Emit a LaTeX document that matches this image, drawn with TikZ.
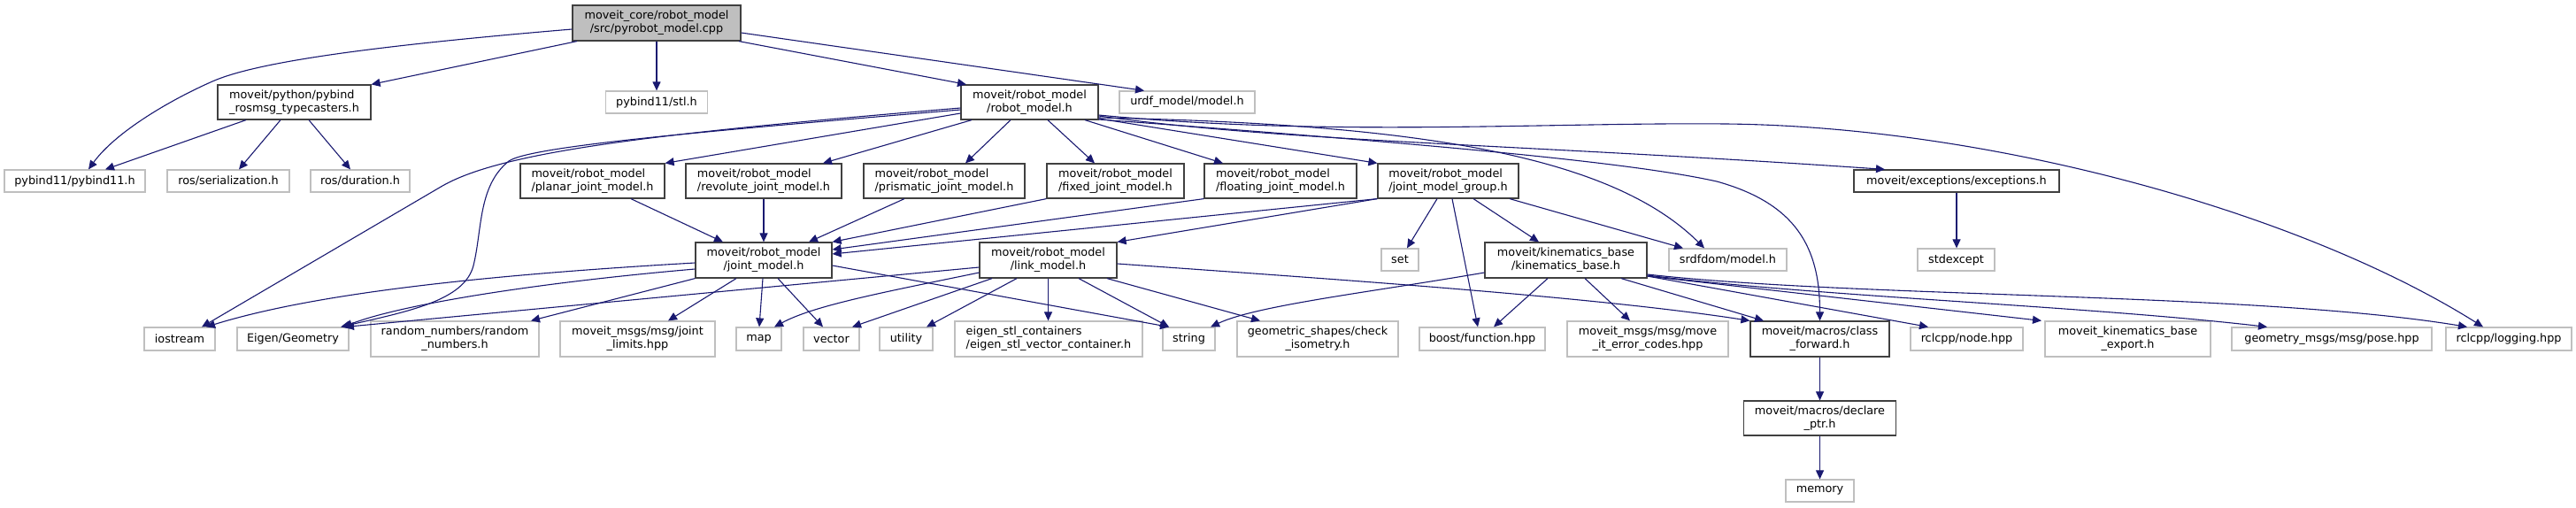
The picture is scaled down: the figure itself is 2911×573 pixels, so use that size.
\documentclass[tikz,border=0pt]{standalone}
\usepackage{fontspec}
\setmainfont{DejaVu Sans}
\usetikzlibrary{arrows.meta,calc}
\definecolor{edgeblue}{HTML}{191970}
\definecolor{intgray}{HTML}{404040}
\definecolor{extgray}{HTML}{BFBFBF}
\definecolor{rootgray}{HTML}{BFBFBF}
\tikzset{
  base/.style={rectangle, inner sep=0pt, font=\fontsize{12.8}{15}\selectfont, line width=1.2pt},
  ext/.style={base, align=center, draw=extgray, fill=white},
  intc/.style={base, align=center, draw=intgray, fill=white},
  intl/.style={base, align=left, draw=intgray, fill=white},
  extl/.style={base, align=left, draw=extgray, fill=white},
  rootnode/.style={base, align=center, draw=intgray, fill=rootgray},
  dep/.style={draw=edgeblue, line width=1.1pt, -{Triangle[length=10pt,width=9pt]}},
  sz/.style 2 args={minimum width=#1pt, minimum height=#2pt}
}
\begin{document}
\begin{tikzpicture}[x=1pt,y=-1pt]
\useasboundingbox (0,0) rectangle (2911,573);
% row 1
\node[rootnode, sz={190}{40}] (root) at (742,26) {moveit\_core/robot\_model\\/src/pyrobot\_model.cpp};
% row 2
\node[intl, sz={173}{39}] (typec) at (332.5,115.5) {moveit/python/pybind\\\_rosmsg\_typecasters.h};
\node[ext, sz={115}{25}] (stl) at (742,115.5) {pybind11/stl.h};
\node[intc, sz={155}{39}] (robot) at (1163.5,115.5) {moveit/robot\_model\\/robot\_model.h};
\node[ext, sz={153}{25}] (urdf) at (1341.5,115.5) {urdf\_model/model.h};
% row 3
\node[ext, sz={159}{25}] (pybind) at (84.5,204.5) {pybind11/pybind11.h};
\node[ext, sz={138}{25}] (serial) at (258,204.5) {ros/serialization.h};
\node[ext, sz={112}{25}] (duration) at (407,204.5) {ros/duration.h};
\node[intl, sz={163}{39}] (planar) at (669.5,204.5) {moveit/robot\_model\\/planar\_joint\_model.h};
\node[intl, sz={176}{39}] (revolute) at (863,204.5) {moveit/robot\_model\\/revolute\_joint\_model.h};
\node[intl, sz={182}{39}] (prismatic) at (1067,204.5) {moveit/robot\_model\\/prismatic\_joint\_model.h};
\node[intl, sz={155}{39}] (fixed) at (1260.5,204.5) {moveit/robot\_model\\/fixed\_joint\_model.h};
\node[intl, sz={172}{39}] (floating) at (1447,204.5) {moveit/robot\_model\\/floating\_joint\_model.h};
\node[intl, sz={159}{39}] (jmg) at (1636.5,204.5) {moveit/robot\_model\\/joint\_model\_group.h};
\node[intc, sz={232}{25}] (exceptions) at (2211,204.5) {moveit/exceptions/exceptions.h};
% row 4
\node[intc, sz={154}{40}] (jointm) at (863,294) {moveit/robot\_model\\/joint\_model.h};
\node[intc, sz={155}{40}] (linkm) at (1184.5,294) {moveit/robot\_model\\/link\_model.h};
\node[ext, sz={42}{25}] (set) at (1582,293.5) {set};
\node[intc, sz={183}{40}] (kinb) at (1769.5,294) {moveit/kinematics\_base\\/kinematics\_base.h};
\node[ext, sz={133}{25}] (srdf) at (1952.5,293.5) {srdfdom/model.h};
\node[ext, sz={87}{25}] (stdexcept) at (2210.5,293.5) {stdexcept};
% row 5
\node[ext, sz={80}{26}] (iostream) at (203,383) {iostream};
\node[ext, sz={126}{26}] (eigen) at (331,383) {Eigen/Geometry};
\node[ext, sz={190}{40}] (random) at (514,383) {random\_numbers/random\\\_numbers.h};
\node[ext, sz={175}{40}] (jlimits) at (720.5,383) {moveit\_msgs/msg/joint\\\_limits.hpp};
\node[ext, sz={51}{26}] (map) at (857.5,383) {map};
\node[ext, sz={63}{26}] (vector) at (939.5,383) {vector};
\node[ext, sz={60}{26}] (utility) at (1024,383) {utility};
\node[extl, sz={212}{40}] (eigenstl) at (1185,383) {eigen\_stl\_containers\\/eigen\_stl\_vector\_container.h};
\node[ext, sz={59}{26}] (string) at (1343.5,383) {string};
\node[ext, sz={182}{40}] (geom) at (1489,383) {geometric\_shapes/check\\\_isometry.h};
\node[ext, sz={142}{26}] (boost) at (1675,383) {boost/function.hpp};
\node[ext, sz={182}{40}] (errc) at (1862,383) {moveit\_msgs/msg/move\\\_it\_error\_codes.hpp};
\node[intc, sz={157}{40}] (classfwd) at (2056.5,383) {moveit/macros/class\\\_forward.h};
\node[ext, sz={127}{26}] (rclnode) at (2222.5,383) {rclcpp/node.hpp};
\node[ext, sz={187}{40}] (export) at (2404.5,383) {moveit\_kinematics\_base\\\_export.h};
\node[ext, sz={226}{26}] (pose) at (2635,383) {geometry\_msgs/msg/pose.hpp};
\node[ext, sz={142}{26}] (logging) at (2835,383) {rclcpp/logging.hpp};
% row 6, 7
\node[intc, sz={172}{39}] (declare) at (2056.5,472.5) {moveit/macros/declare\\\_ptr.h};
\node[ext, sz={77}{25}] (memory) at (2056.5,554.5) {memory};

% ---- edges from root
\draw[dep] (root.west |- 0,33) .. controls (420,52) and (290,70) .. (240,92) .. controls (190,114) and (130,150) .. (pybind.north -| 100,0);
\draw[dep] (root.south -| 652,0) -- (typec.north east);
\draw[dep] (root.south) -- (root.south |- stl.north);
\draw[dep] (root.south -| 835,0) -- (robot.north -| 1092,0);
\draw[dep] (root.east |- 0,37) -- (urdf.north -| 1293,0);
% typecasters
\draw[dep] (typec.south -| 278,0) -- (pybind.north -| 119,0);
\draw[dep] (typec.south -| 317,0) -- (serial.north -| 270,0);
\draw[dep] (typec.south -| 349,0) -- (duration.north -| 396,0);
% robot_model
\draw[dep] (robot.west |- 0,122) .. controls (750,150) and (570,170) .. (500,210) -- (iostream.north -| 228,0);
\draw[dep] (robot.west |- 0,124) .. controls (800,148) and (600,165) .. (575,182) .. controls (540,210) and (545,260) .. (535,300) .. controls (525,340) and (460,352) .. (eigen.north -| 385,0);
\draw[dep] (robot.west |- 0,128) -- (planar.north east);
\draw[dep] (robot.south -| 1098,0) -- (revolute.north -| 930,0);
\draw[dep] (robot.south -| 1142,0) -- (prismatic.north -| 1091,0);
\draw[dep] (robot.south -| 1184,0) -- (fixed.north -| 1237,0);
\draw[dep] (robot.south -| 1226,0) -- (floating.north -| 1382,0);
\draw[dep] (robot.east |- 0,134) -- (jmg.north west);
\draw[dep] (robot.east |- 0,133) .. controls (1600,140) and (1820,175) .. (srdf.north -| 1926,0);
\draw[dep] (robot.east |- 0,135) .. controls (1650,165) and (1850,185) .. (1940,205) .. controls (2030,230) and (2056.5,280) .. (classfwd.north);
\draw[dep] (robot.east |- 0,131) .. controls (1450,160) and (1700,162) .. (exceptions.north -| 2130,0);
\draw[dep] (robot.east |- 0,130) .. controls (1500,155) and (1750,138) .. (1950,140) .. controls (2250,143) and (2600,240) .. (logging.north -| 2806,0);
% joint_model_group
\draw[dep] (jmg.south west) -- (jointm.east |- 0,287);
\draw[dep] (jmg.south west) -- (linkm.north east);
\draw[dep] (jmg.south -| 1624,0) -- (set.north -| 1590,0);
\draw[dep] (jmg.south -| 1641,0) -- (boost.north -| 1670,0);
\draw[dep] (jmg.south -| 1665,0) -- (kinb.north -| 1739,0);
\draw[dep] (jmg.south -| 1706,0) -- (srdf.north -| 1902,0);
% joint types -> joint_model
\draw[dep] (planar.south -| 713,0) -- (jointm.north -| 817,0);
\draw[dep] (revolute.south) -- (jointm.north);
\draw[dep] (prismatic.south -| 1022,0) -- (jointm.north -| 914,0);
\draw[dep] (fixed.south west) -- (jointm.north east);
\draw[dep] (floating.south west) -- (jointm.east |- 0,282);
% joint_model
\draw[dep] (jointm.west |- 0,297) .. controls (560,310) and (360,330) .. (iostream.north -| 233,0);
\draw[dep] (jointm.west |- 0,304) .. controls (600,320) and (450,345) .. (eigen.north -| 388,0);
\draw[dep] (jointm.south west) -- (random.north -| 600,0);
\draw[dep] (jointm.south -| 832,0) -- (jlimits.north -| 755,0);
\draw[dep] (jointm.south -| 862,0) -- (map.north -| 858,0);
\draw[dep] (jointm.south -| 879,0) -- (vector.north -| 930,0);
\draw[dep] (jointm.east |- 0,300) -- (string.north -| 1321,0);
% link_model
\draw[dep] (linkm.west |- 0,302) -- (eigen.north -| 390,0);
\draw[dep] (linkm.west |- 0,308) .. controls (1000,330) and (920,345) .. (map.north -| 875,0);
\draw[dep] (linkm.south -| 1121,0) -- (vector.north -| 963,0);
\draw[dep] (linkm.south -| 1149,0) -- (utility.north -| 1047,0);
\draw[dep] (linkm.south) -- (linkm.south |- eigenstl.north);
\draw[dep] (linkm.south -| 1219,0) -- (string.north -| 1321,0);
\draw[dep] (linkm.south -| 1251,0) -- (geom.north -| 1424,0);
\draw[dep] (linkm.east |- 0,298) .. controls (1500,315) and (1800,335) .. (classfwd.north west);
% kinematics_base
\draw[dep] (kinb.west |- 0,308) .. controls (1550,330) and (1420,345) .. (string.north -| 1368,0);
\draw[dep] (kinb.south -| 1749,0) -- (boost.north -| 1688,0);
\draw[dep] (kinb.south -| 1791,0) -- (errc.north -| 1842,0);
\draw[dep] (kinb.south -| 1832,0) -- (classfwd.north -| 1993,0);
\draw[dep] (kinb.east |- 0,312) -- (rclnode.north -| 2179,0);
\draw[dep] (kinb.east |- 0,312) -- (export.north -| 2307,0);
\draw[dep] (kinb.east |- 0,311) .. controls (2050,335) and (2350,345) .. (pose.north -| 2562,0);
\draw[dep] (kinb.east |- 0,310) .. controls (2100,337) and (2550,330) .. (logging.north -| 2788,0);
% others
\draw[dep] (exceptions.south) -- (exceptions.south |- stdexcept.north);
\draw[dep] (classfwd.south) -- (declare.north);
\draw[dep] (declare.south) -- (memory.north);
\end{tikzpicture}
\end{document}
